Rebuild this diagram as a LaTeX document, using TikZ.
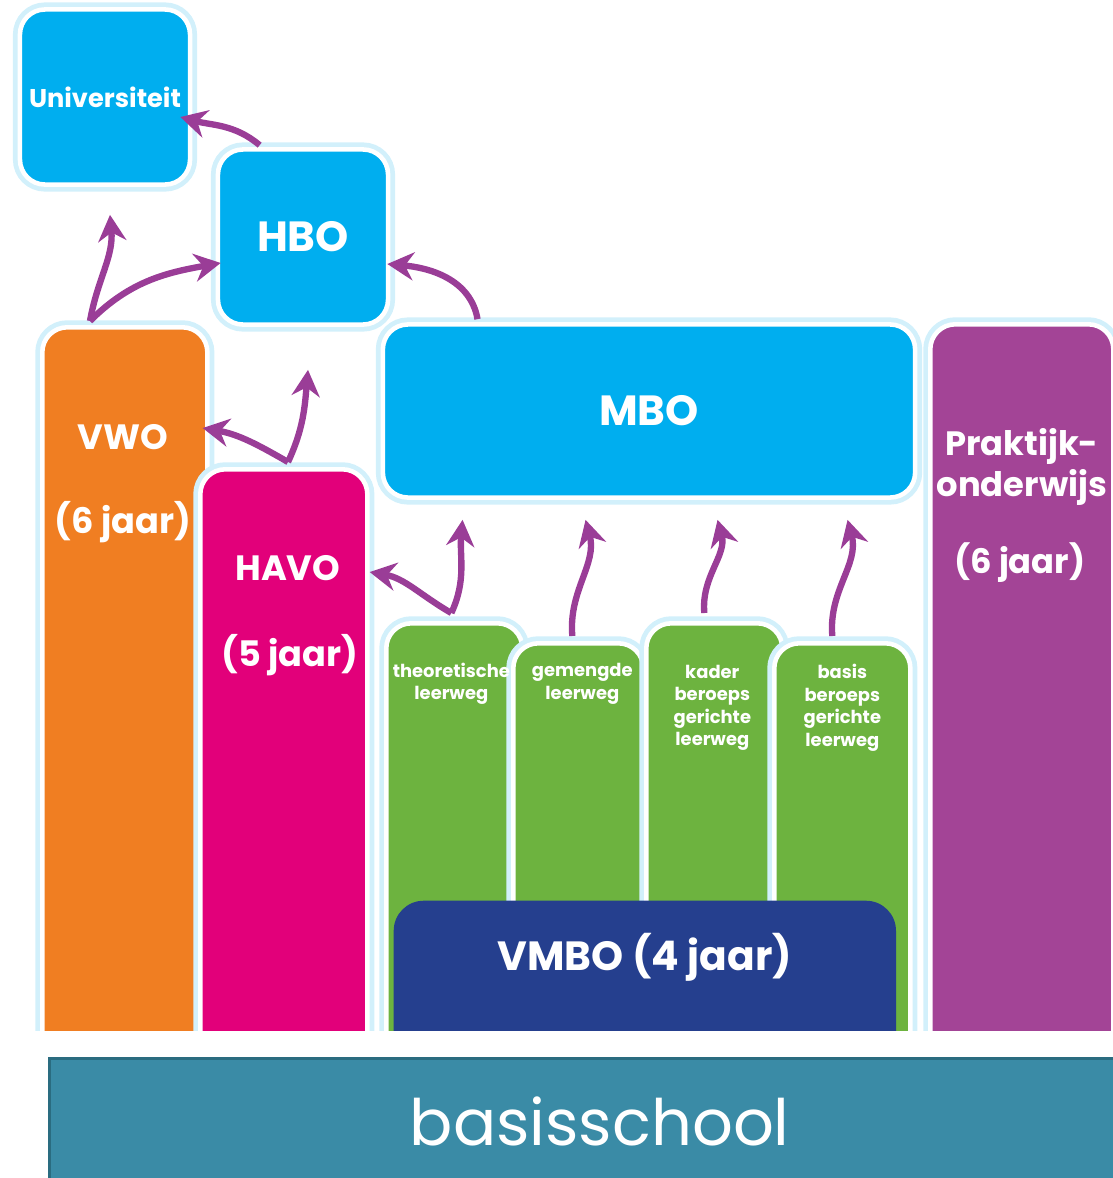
\documentclass[tikz,border=0pt]{standalone}
\usepackage{fontspec}
\setmainfont{Poppins}
\usetikzlibrary{arrows.meta,positioning,calc}
\definecolor{hoogblauw}{HTML}{00AEEF}
\definecolor{vwooranje}{HTML}{F07E22}
\definecolor{havoroze}{HTML}{E2007A}
\definecolor{praktpaars}{HTML}{A34496}
\definecolor{leergroen}{HTML}{6DB33F}
\definecolor{vmboblauw}{HTML}{253F8E}
\definecolor{schoolteal}{HTML}{3A8BA6}
\definecolor{schoolrand}{HTML}{2A6C80}
\definecolor{pijlpaars}{HTML}{9A3D97}
\definecolor{gloed}{HTML}{D2F0FB}

\begin{document}
\begin{tikzpicture}[x=0.01cm,y=-0.01cm,
  blok/.style={preaction={draw=gloed,line width=4pt},draw=white,line width=1.3pt,
               rounded corners=0.25cm,text=white,inner sep=0pt,align=center},
  kolom/.style={blok,anchor=north west,minimum height=7.4cm},
  tekst/.style={text=white,align=center,inner sep=0pt},
  groot/.style={font=\bfseries\fontsize{12}{14}\selectfont},
  middel/.style={font=\bfseries\fontsize{10}{12}\selectfont},
  klein/.style={font=\bfseries\fontsize{5.1}{6.4}\selectfont},
  pijl/.style={-{Stealth[length=7.5pt,width=8pt,inset=2.5pt]},line width=1.8pt,
               draw=pijlpaars}
]
\useasboundingbox (0,0) rectangle (1113,1178);

% vervolgopleidingen
\node[blok,fill=hoogblauw,minimum width=1.7cm,minimum height=1.75cm,
      font=\bfseries\fontsize{7.3}{9}\selectfont] (uni) at (105,97) {Universiteit};
\node[blok,fill=hoogblauw,minimum width=1.7cm,minimum height=1.75cm,groot]
  (hbo) at (303,237) {HBO};
\node[blok,fill=hoogblauw,minimum width=5.32cm,minimum height=1.73cm,groot]
  (mbo) at (649,411) {MBO};

% voortgezet onderwijs
\begin{scope}
\clip (0,0) rectangle (1113,1030);
\node[kolom,fill=vwooranje,minimum width=1.65cm] (vwo) at (40,325) {};
\node[kolom,fill=havoroze,minimum width=1.67cm] (havo) at (198,467) {};
\node[kolom,fill=leergroen,minimum width=1.36cm] (theo) at (384,621) {};
\node[kolom,fill=leergroen,minimum width=1.30cm] (gemengd) at (511,641) {};
\node[kolom,fill=leergroen,minimum width=1.36cm] (kader) at (644,621) {};
\node[kolom,fill=leergroen,minimum width=1.36cm] (basisb) at (772,641) {};
\node[kolom,fill=praktpaars,minimum width=1.83cm] (prakt) at (928,322) {};
\node[anchor=north west,fill=vmboblauw,rounded corners=0.3cm,
      minimum width=5.02cm,minimum height=1.8cm] (vmbo) at (393,900) {};
\end{scope}

\node[tekst,middel] (vwotekst) at ($(vwo.north)+(-2,112)$) {VWO};
\node[tekst,middel] (vwojaar) at ($(vwo.north)+(-2,197)$) {(6 jaar)};
\node[tekst,middel] (havotekst) at ($(havo.north)+(4,101)$) {HAVO};
\node[tekst,middel] (havojaar) at ($(havo.north)+(6,188)$) {(5 jaar)};
\node[tekst,font=\bfseries\fontsize{9.6}{11.5}\selectfont]
  (prakttekst) at ($(prakt.north)+(0,145)$) {Praktijk-\\onderwijs};
\node[tekst,font=\bfseries\fontsize{9.6}{11.5}\selectfont]
  (praktjaar) at ($(prakt.north)+(-2,241)$) {(6 jaar)};
\node[tekst,klein] (theotekst) at ($(theo.north)+(-3,63)$) {theoretische\\leerweg};
\node[tekst,klein] (gemtekst) at ($(gemengd.north)+(4,43)$) {gemengde\\leerweg};
\node[tekst,klein] (kadertekst) at ($(kader.north)+(-2,87)$)
  {kader\\beroeps\\gerichte\\leerweg};
\node[tekst,klein] (basistekst) at ($(basisb.north)+(0,67)$)
  {basis\\beroeps\\gerichte\\leerweg};
\node[tekst,font=\bfseries\fontsize{11.6}{14}\selectfont]
  (vmbotekst) at ($(vmbo.north)+(0,57)$) {VMBO (4 jaar)};

% basisschool
\node[anchor=north west,fill=schoolteal,draw=schoolrand,line width=0.8pt,
      minimum width=11cm,minimum height=1.25cm,text=white,
      font=\fontsize{18.2}{22}\selectfont] (school) at (48,1057) {basisschool};

% doorstroom
\coordinate (vwotop) at ($(vwo.north west)+(50,-4)$);
\coordinate (havotop) at ($(havo.north west)+(90,-5)$);
\coordinate (theotop) at ($(theo.north)+(-3,-8)$);
\draw[pijl] (vwotop) to[out=80,in=-85] ($(uni.south)+(5,28)$);
\draw[pijl] (vwotop) to[out=45,in=190] ($(hbo.west)+(5,26)$);
\draw[pijl] ($(hbo.north west)+(44,-2)$) to[out=140,in=-15] ($(uni.east)+(-12,20)$);
\draw[pijl] ($(mbo.north west)+(97,-3)$) to[out=100,in=-5] ($(hbo.east)+(-3,27)$);
\draw[pijl] (havotop) to[out=150,in=-10] ($(vwo.north east)+(-7,103)$);
\draw[pijl] (havotop) to[out=65,in=-95] ($(hbo.south)+(5,43)$);
\draw[pijl] (theotop) to[out=150,in=-10] ($(havo.north east)+(0,105)$);
\draw[pijl] (theotop) to[out=65,in=-95] ($(mbo.south west)+(82,20)$);
\draw[pijl] ($(gemengd.north)+(-6,-5)$) to[out=95,in=-75] ($(mbo.south west)+(205,20)$);
\draw[pijl] ($(kader.north)+(-10,-8)$) to[out=95,in=-75] ($(mbo.south west)+(337,20)$);
\draw[pijl] ($(basisb.north)+(-10,-5)$) to[out=95,in=-75] ($(mbo.south west)+(467,20)$);
\end{tikzpicture}
\end{document}
